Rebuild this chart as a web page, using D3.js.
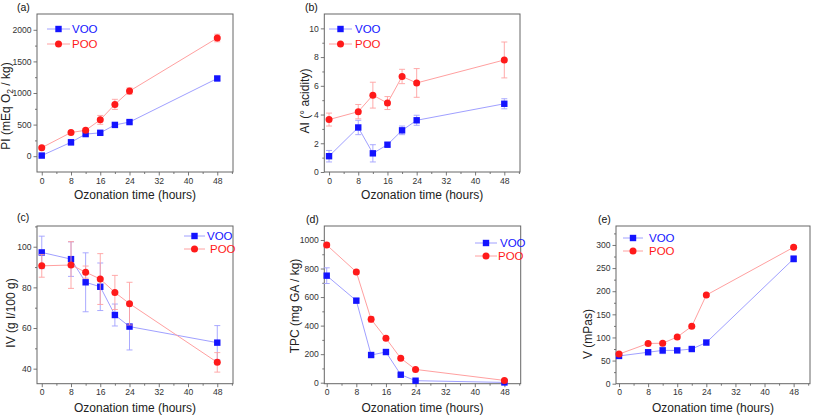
<!DOCTYPE html>
<html><head><meta charset="utf-8">
<script src="https://cdn.jsdelivr.net/npm/d3@7"></script>
<style>
body{margin:0;background:#fff}
text{font-family:Arial,"Liberation Sans",sans-serif}
</style>
</head><body>
<svg id="c" width="813" height="415"></svg>
<script>
// ---------- data ----------
const hours = [0, 8, 12, 16, 20, 24, 48];
const xTicks = [0, 8, 16, 24, 32, 40, 48];
const seriesNames = ["VOO", "POO"];

// (a) Peroxide index
const piVOO = [10, 220, 350, 370, 495, 540, 1230];
const piVOOErr = [15, 45, 30, 25, 25, 25, 30];
const piPOO = [135, 375, 410, 575, 820, 1030, 1870];
const piPOOErr = [20, 20, 30, 70, 80, 50, 60];
const piTicks = [0, 500, 1000, 1500, 2000];

// (b) Acidity index
const aiVOO = [1.1, 3.1, 1.3, 1.9, 2.9, 3.6, 4.75];
const aiVOOErr = [0.4, 0.5, 0.6, 0.15, 0.3, 0.35, 0.35];
const aiPOO = [3.65, 4.2, 5.35, 4.8, 6.65, 6.2, 7.8];
const aiPOOErr = [0.45, 0.5, 0.9, 0.45, 0.5, 1.0, 1.25];
const aiTicks = [0, 2, 4, 6, 8, 10];

// (c) Iodine value
const ivVOO = [97.2, 93.9, 82.5, 80.3, 66.4, 60.7, 52.8];
const ivVOOErr = [8, 8.5, 14.5, 11.7, 5.4, 11.5, 8.4];
const ivPOO = [90.6, 91, 87.5, 84.1, 77.5, 72, 43.1];
const ivPOOErr = [5.6, 11.5, 3, 12.5, 8.4, 10.5, 4.8];
const ivTicks = [40, 60, 80, 100];

// (d) Total phenolic content
const tpcVOO = [750, 575, 194, 215, 56, 14, 2];
const tpcVOOErr = [55, 15, 10, 10, 8, 5, 3];
const tpcPOO = [965, 776, 444, 311, 171, 93, 16];
const tpcPOOErr = [15, 15, 20, 10, 8, 5, 5];
const tpcTicks = [0, 200, 400, 600, 800, 1000];

// (e) Viscosity
const vVOO = [60, 68, 72, 72, 75, 89, 270];
const vVOOErr = [3, 3, 7, 3, 3, 3, 7];
const vPOO = [64, 87, 87.5, 101, 124, 191.6, 295];
const vPOOErr = [3, 3, 3, 3, 3, 3, 3];
const vTicks = [0, 50, 100, 150, 200, 250, 300];

// ---------- layout ----------
const panels = [
  {tag:"(a)", tagX:17, tagY:11, x0:37, x1:233, y0:14, y1:172, xd:[-1.3,52.3], yd:[-250,2250],
   yt:piTicks, ym:250, v:[piVOO,piPOO], e:[piVOOErr,piPOOErr],
   yl:["PI (mEq O","2"," / kg)"], ylx:9.5, yly:106, xly:199,
   lg:{lx0:47, lx1:70, tx:72, ty:[29,44], shift:[0,0]}},
  {tag:"(b)", tagX:305, tagY:11, x0:324.3, x1:520, y0:14, y1:172, xd:[-1.3,52.3], yd:[0,11],
   yt:aiTicks, ym:1, v:[aiVOO,aiPOO], e:[aiVOOErr,aiPOOErr],
   yl:["AI (° acidity)"], ylx:309, yly:101, xly:199,
   lg:{lx0:329, lx1:352, tx:355, ty:[29,44], shift:[0,0]}},
  {tag:"(c)", tagX:17, tagY:221, x0:37, x1:233, y0:226, y1:383.7, xd:[-1.3,52.3], yd:[32.6,110.2],
   yt:ivTicks, ym:10, v:[ivVOO,ivPOO], e:[ivVOOErr,ivPOOErr],
   yl:["IV (g I/100 g)"], ylx:15, yly:313, xly:412,
   lg:{lx0:184, lx1:205, tx:207, ty:[236,249], shift:[0,3]}},
  {tag:"(d)", tagX:306, tagY:223, x0:324.3, x1:520.7, y0:226, y1:383.7, xd:[-0.65,52.4], yd:[-7,1098],
   yt:tpcTicks, ym:100, v:[tpcVOO,tpcPOO], e:[tpcVOOErr,tpcPOOErr],
   yl:["TPC (mg GA / kg)"], ylx:298.5, yly:306, xly:412,
   lg:{lx0:475, lx1:497, tx:500, ty:[243,256], shift:[0,-2]}},
  {tag:"(e)", tagX:598, tagY:223, x0:616, x1:810, y0:226, y1:383.7, xd:[-0.83,52.5], yd:[0,341],
   yt:vTicks, ym:25, v:[vVOO,vPOO], e:[vVOOErr,vPOOErr],
   yl:["V (mPas)"], ylx:592, yly:334, xly:412,
   lg:{lx0:623, lx1:643, tx:649, ty:[238,251], shift:[0,0]}}
];

const markColor = ["#1414ff", "#ff1a1a"];
const lineColor = ["#a0a0ff", "#ffa0a0"];
const textColor = ["#1414ff", "#ff1a1a"];

const svg = d3.select("#c");

function marker(g, i, cx, cy) {
  if (i === 0) {
    g.append("rect").attr("x", cx - 3.2).attr("y", cy - 3.2).attr("width", 6.4).attr("height", 6.4)
      .attr("fill", markColor[0]);
  } else {
    g.append("circle").attr("cx", cx).attr("cy", cy).attr("r", 3.5).attr("fill", markColor[1]);
  }
}

panels.forEach(p => {
  const g = svg.append("g");
  const x = d3.scaleLinear().domain(p.xd).range([p.x0, p.x1]);
  const y = d3.scaleLinear().domain(p.yd).range([p.y1, p.y0]);

  const xMinor = d3.range(4, 53, 8).filter(t => t > p.xd[0] && t < p.xd[1]);
  const yMinor = d3.range(p.yt[0] - p.ym, p.yd[1], p.ym * 2).filter(t => t > p.yd[0] && t < p.yd[1] - 1e-9);

  const xa = g.append("g").attr("transform", `translate(0,${p.y1})`)
    .call(d3.axisBottom(x).tickValues(xTicks).tickSize(3.5).tickSizeOuter(0).tickPadding(2).tickFormat(d3.format("d")));
  const xm = g.append("g").attr("transform", `translate(0,${p.y1})`)
    .call(d3.axisBottom(x).tickValues(xMinor).tickSize(2).tickFormat(""));
  const ya = g.append("g").attr("transform", `translate(${p.x0},0)`)
    .call(d3.axisLeft(y).tickValues(p.yt).tickSize(3.5).tickSizeOuter(0).tickPadding(2).tickFormat(d3.format("d")));
  const ymn = g.append("g").attr("transform", `translate(${p.x0},0)`)
    .call(d3.axisLeft(y).tickValues(yMinor).tickSize(2).tickFormat(""));
  [xa, xm, ya, ymn].forEach(a => {
    a.select(".domain").remove();
    a.selectAll("line").attr("stroke", "#555").attr("stroke-width", 0.8);
    a.selectAll("text").attr("fill", "#333").style("font-size", "8.6px")
      .style("font-family", "Arial, 'Liberation Sans', sans-serif");
  });

  g.append("rect").attr("x", p.x0).attr("y", p.y0).attr("width", p.x1 - p.x0).attr("height", p.y1 - p.y0)
    .attr("fill", "none").attr("stroke", "#666").attr("stroke-width", 1);

  [0, 1].forEach(i => {
    const vals = p.v[i], errs = p.e[i];
    const pts = hours.map((h, k) => ({h, v: vals[k], e: errs[k]}));
    const sg = g.append("g");
    sg.append("path").datum(pts)
      .attr("d", d3.line().x(d => x(d.h)).y(d => y(d.v)))
      .attr("fill", "none").attr("stroke", lineColor[i]).attr("stroke-width", 1);
    pts.forEach(d => {
      const cx = x(d.h), yt = y(d.v + d.e), yb = y(d.v - d.e);
      sg.append("line").attr("x1", cx).attr("x2", cx).attr("y1", yt).attr("y2", yb)
        .attr("stroke", lineColor[i]).attr("stroke-width", 0.9);
      [yt, yb].forEach(yy => sg.append("line").attr("x1", cx - 3).attr("x2", cx + 3).attr("y1", yy).attr("y2", yy)
        .attr("stroke", lineColor[i]).attr("stroke-width", 0.9));
    });
    pts.forEach(d => marker(sg, i, x(d.h), y(d.v)));
  });

  [0, 1].forEach(i => {
    const ly = p.lg.ty[i];
    g.append("line").attr("x1", p.lg.lx0).attr("x2", p.lg.lx1).attr("y1", ly).attr("y2", ly)
      .attr("stroke", lineColor[i]).attr("stroke-width", 1);
    marker(g, i, (p.lg.lx0 + p.lg.lx1) / 2, ly);
    g.append("text").attr("x", p.lg.tx + p.lg.shift[i]).attr("y", ly).attr("dy", "0.36em")
      .attr("fill", textColor[i]).style("font-size", "11.5px").text(seriesNames[i]);
  });

  g.append("text").attr("x", p.tagX).attr("y", p.tagY).attr("fill", "#111").style("font-size", "10.5px").text(p.tag);

  g.append("text").attr("x", (p.x0 + p.x1) / 2).attr("y", p.xly).attr("text-anchor", "middle")
    .attr("fill", "#222").style("font-size", "12px").text("Ozonation time (hours)");

  const yt = g.append("text").attr("transform", `translate(${p.ylx},${p.yly}) rotate(-90)`)
    .attr("text-anchor", "middle").attr("fill", "#222").style("font-size", "12px");
  if (p.yl.length === 3) {
    yt.append("tspan").text(p.yl[0]);
    yt.append("tspan").attr("dy", 3).style("font-size", "8.5px").text(p.yl[1]);
    yt.append("tspan").attr("dy", -3).text(p.yl[2]);
  } else {
    yt.text(p.yl[0]);
  }
});
</script>
</body></html>
